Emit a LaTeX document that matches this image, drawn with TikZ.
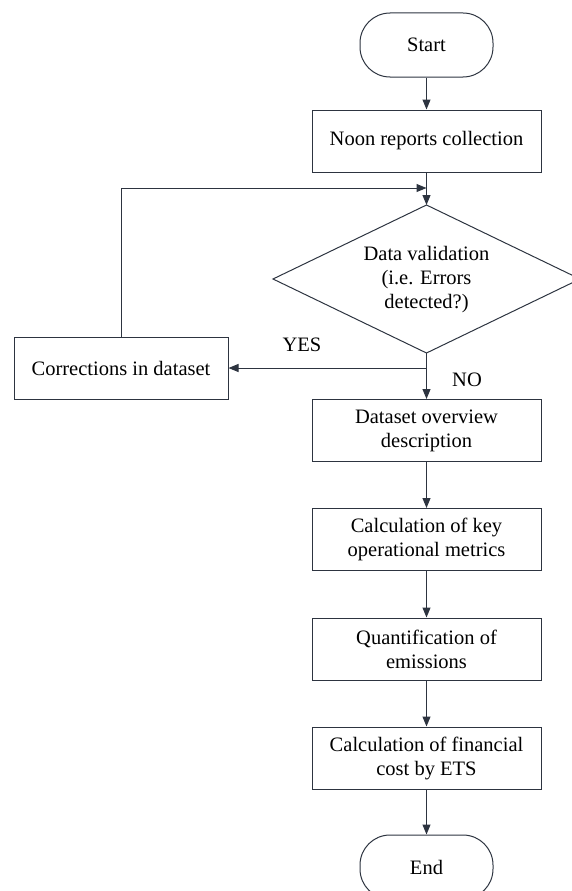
\documentclass[tikz,border=0pt]{standalone}
\usepackage{fontspec}
\setmainfont{Liberation Serif}
\usetikzlibrary{arrows.meta}
\definecolor{ln}{RGB}{45,52,64}
\tikzset{
  every node/.style={font=\fontsize{20.5}{24}\selectfont, text=black},
  box/.style={draw=ln, line width=1pt, rectangle, minimum width=229pt, minimum height=62pt, align=center, inner sep=2pt},
  term/.style={draw=ln, line width=1pt, rectangle, rounded corners=30pt, minimum width=133pt, minimum height=64pt},
  dectext/.style={align=center, inner sep=0pt},
  arr/.style={draw=ln, line width=1pt, -{Triangle[length=10pt,width=8pt]}},
  lab/.style={inner sep=0pt}
}
\begin{document}
\begin{tikzpicture}[x=1pt,y=-1pt]
\useasboundingbox (0,0) rectangle (572,891);
\node[term] (start) at (426.5,45) {Start};
\node[box] (noon) at (426.5,141) {Noon reports collection};
\coordinate (dvN) at (426.5,205);
\coordinate (dvS) at (426.5,353);
\coordinate (dvW) at (273,279);
\coordinate (dvE) at (580,279);
\draw[draw=ln, line width=1pt] (dvN) -- (dvE) -- (dvS) -- (dvW) -- cycle;
\node[dectext] (dv) at (426.5,280) {Data validation\\(i.e. Errors\\detected?)};
\node[box, minimum width=214pt] (corr) at (121,368) {Corrections in dataset};
\node[box] (ds) at (426.5,430.5) {Dataset overview\\description};
\node[box] (ck) at (426.5,539.5) {Calculation of key\\operational metrics};
\node[box] (qe) at (426.5,649) {Quantification of\\emissions};
\node[box] (cf) at (426.5,758) {Calculation of financial\\cost by ETS};
\node[term] (end) at (426.5,867) {End};
\coordinate (merge) at (426.5,188);
\node[lab] (yes) at (302,345) {YES};
\node[lab] (no) at (467,380) {NO};
\draw[arr] (start) -- (noon);
\draw[arr] (noon) -- (dvN);
\draw[arr] (dvS) |- (corr.east);
\draw[arr] (dvS) -- (ds.north);
\draw[arr] (corr.north) |- (merge);
\draw[arr] (ds) -- (ck);
\draw[arr] (ck) -- (qe);
\draw[arr] (qe) -- (cf);
\draw[arr] (cf) -- (end);
\end{tikzpicture}
\end{document}
